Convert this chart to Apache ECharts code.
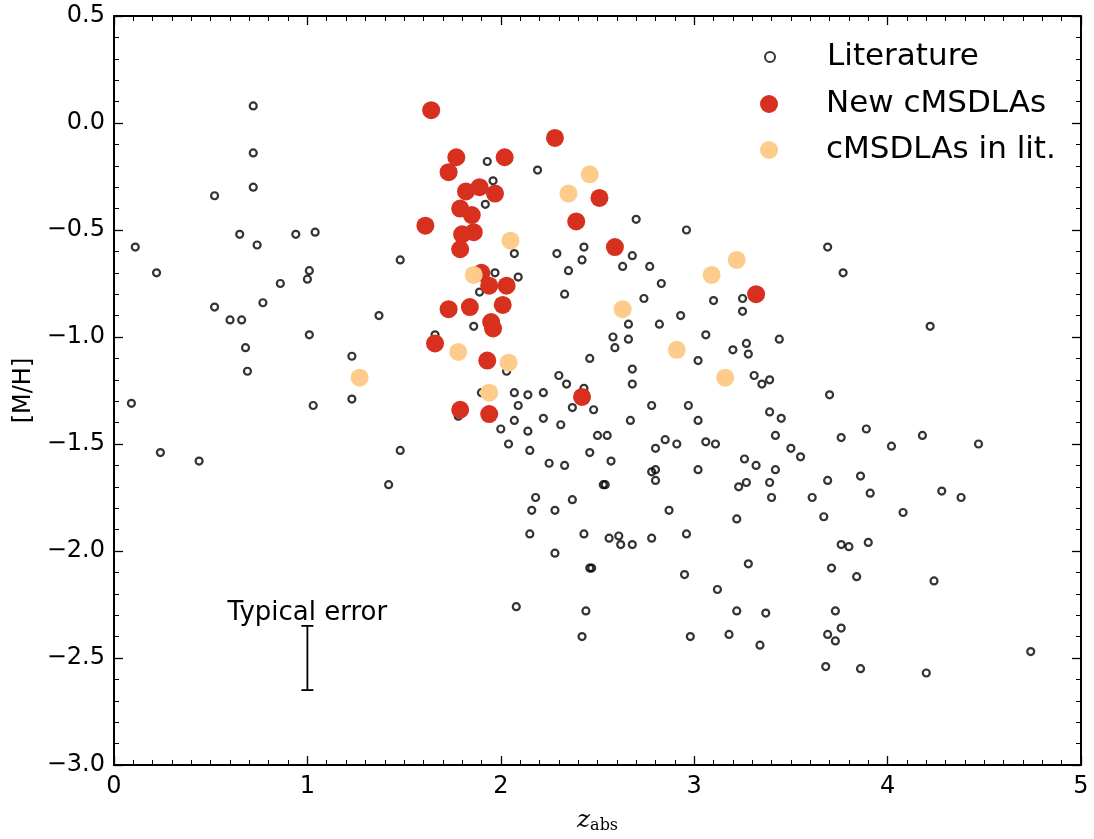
<!DOCTYPE html>
<html>
<head>
<meta charset="utf-8">
<script src="https://cdn.jsdelivr.net/npm/echarts@6/dist/echarts.min.js"></script>
<style>
  html, body { margin: 0; padding: 0; background: #fff; }
  #main { width: 1094px; height: 839px; }
</style>
</head>
<body>
<div id="main"></div>
<script>
// literature absorbers: [z_abs, [M/H]]
var literature = [
  [0.72,0.08],[0.72,-0.14],[0.72,-0.30],[0.52,-0.34],[0.65,-0.52],[0.74,-0.57],[0.94,-0.52],[1.04,-0.51],[0.11,-0.58],
  [0.22,-0.70],[0.52,-0.86],[0.60,-0.92],[0.66,-0.92],[0.77,-0.84],[0.86,-0.75],[1.01,-0.69],[1.00,-0.73],[1.01,-0.99],
  [0.68,-1.05],[0.69,-1.16],[1.23,-1.09],[1.23,-1.29],[0.09,-1.31],[1.03,-1.32],[0.24,-1.54],[0.44,-1.58],
  [1.48,-0.64],[1.37,-0.90],[1.66,-0.99],[1.48,-1.53],[1.42,-1.69],
  [1.93,-0.18],[2.19,-0.22],[1.96,-0.27],[1.92,-0.38],[2.07,-0.61],[2.29,-0.61],[2.43,-0.58],[2.42,-0.64],
  [2.70,-0.45],[2.96,-0.50],[2.68,-0.62],[3.69,-0.58],[2.63,-0.67],[2.77,-0.67],
  [1.97,-0.70],[2.09,-0.72],[1.89,-0.79],[2.35,-0.69],[2.33,-0.80],[1.86,-0.95],[2.03,-1.16],[2.46,-1.10],
  [2.30,-1.18],[2.34,-1.22],[2.43,-1.24],[1.90,-1.26],[2.07,-1.26],[2.14,-1.27],[2.22,-1.26],[2.09,-1.32],
  [2.37,-1.33],[2.48,-1.34],[1.78,-1.37],[2.07,-1.39],[2.22,-1.38],[2.31,-1.41],[2.00,-1.43],[2.14,-1.44],
  [2.50,-1.46],[2.04,-1.50],[2.15,-1.53],[2.46,-1.54],[2.25,-1.59],[2.33,-1.60],[2.53,-1.69],[2.18,-1.75],
  [2.37,-1.76],[2.16,-1.81],[2.28,-1.81],
  [3.77,-0.70],[2.83,-0.75],[2.74,-0.82],[3.10,-0.83],[3.25,-0.82],[3.25,-0.88],[2.93,-0.90],[2.66,-0.94],
  [2.82,-0.94],[2.58,-1.00],[2.66,-1.01],[2.59,-1.05],[3.06,-0.99],[3.27,-1.03],[3.44,-1.01],[3.20,-1.06],
  [3.28,-1.08],[3.02,-1.11],[2.68,-1.15],[2.68,-1.22],[3.31,-1.18],[3.39,-1.20],[3.35,-1.22],[3.70,-1.27],
  [2.78,-1.32],[2.97,-1.32],[2.67,-1.39],[3.02,-1.39],[3.39,-1.35],[3.45,-1.38],[2.55,-1.46],[3.42,-1.46],
  [3.76,-1.47],[2.85,-1.48],[2.91,-1.50],[3.06,-1.49],[3.11,-1.50],[2.80,-1.52],[3.50,-1.52],[3.55,-1.56],
  [2.57,-1.58],[3.26,-1.57],[3.32,-1.60],[3.02,-1.62],[3.42,-1.62],[2.78,-1.63],[2.80,-1.62],[2.80,-1.67],
  [2.54,-1.69],[3.23,-1.70],[3.27,-1.68],[3.39,-1.68],[3.69,-1.67],[3.40,-1.75],[3.61,-1.75],[2.87,-1.81],
  [4.22,-0.95],[3.89,-1.43],[4.02,-1.51],[4.18,-1.46],[4.47,-1.50],[3.86,-1.65],[3.91,-1.73],[4.28,-1.72],
  [4.38,-1.75],[4.08,-1.82],
  [2.15,-1.92],[2.43,-1.92],[2.28,-2.01],[2.46,-2.08],[2.47,-2.08],[2.08,-2.26],[2.44,-2.28],[2.42,-2.40],
  [3.22,-1.85],[3.67,-1.84],[2.56,-1.94],[2.61,-1.93],[2.62,-1.97],[2.68,-1.97],[2.78,-1.94],[2.96,-1.92],
  [3.76,-1.97],[3.80,-1.98],[2.95,-2.11],[3.28,-2.06],[3.71,-2.08],[3.12,-2.18],[3.22,-2.28],[3.37,-2.29],
  [3.73,-2.28],[3.76,-2.36],[3.69,-2.39],[3.73,-2.42],[2.98,-2.40],[3.18,-2.39],[3.34,-2.44],[3.68,-2.54],
  [3.90,-1.96],[3.84,-2.12],[4.24,-2.14],[4.74,-2.47],[3.86,-2.55],[4.20,-2.57]
];

// new cMSDLAs
var newCMSDLA = [
  [1.64,0.06],[2.28,-0.07],[1.77,-0.16],[2.02,-0.16],[1.73,-0.23],[1.82,-0.32],[1.89,-0.30],[1.97,-0.33],
  [2.51,-0.35],[1.79,-0.40],[1.85,-0.43],[1.61,-0.48],[2.39,-0.46],[1.80,-0.52],[1.86,-0.51],[1.79,-0.59],
  [2.59,-0.58],[1.90,-0.70],[1.94,-0.76],[2.03,-0.76],[1.73,-0.87],[1.84,-0.86],[2.01,-0.85],[3.32,-0.80],
  [1.95,-0.93],[1.96,-0.96],[1.66,-1.03],[1.93,-1.11],[2.42,-1.28],[1.79,-1.34],[1.94,-1.36]
];

// cMSDLAs already in the literature
var litCMSDLA = [
  [2.46,-0.24],[2.35,-0.33],[2.05,-0.55],[1.86,-0.71],[3.09,-0.71],[3.22,-0.64],[2.63,-0.87],
  [1.78,-1.07],[2.04,-1.12],[2.91,-1.06],[3.16,-1.19],[1.27,-1.19],[1.94,-1.26]
];

// typical error bar: [z, top, bottom]
var typicalError = [[1.0, -2.35, -2.65]];
var errorLabel = 'Typical error';

var FONT = 'DejaVu Sans';
var myChart = echarts.init(document.getElementById('main'));

function minus(v) { return String(v).replace('-', '\u2212'); }

var tickCommon = {
  axisLine: { show: true, onZero: false, lineStyle: { color: '#000', width: 2 } },
  axisTick: { show: true, inside: true, length: 9, lineStyle: { color: '#000', width: 1.3 } },
  minorTick: { show: true, length: 5, lineStyle: { color: '#000', width: 1 } },
  splitLine: { show: false }
};

option = {
  backgroundColor: '#fff',
  animation: false,
  grid: { left: 114, right: 13, top: 16, bottom: 74 },
  xAxis: [
    Object.assign({
      type: 'value', min: 0, max: 5, interval: 1, position: 'bottom',
      name: '{z|z}{s|abs}', nameLocation: 'middle', nameGap: 41,
      nameTextStyle: {
        rich: {
          z: { fontFamily: 'DejaVu Serif', fontStyle: 'italic', fontSize: 25, color: '#000' },
          s: { fontFamily: 'DejaVu Serif', fontSize: 16, color: '#000', padding: [12, 0, 0, 0] }
        }
      },
      axisLabel: { fontFamily: FONT, fontSize: 24, color: '#000', margin: 10 }
    }, tickCommon, { minorTick: Object.assign({ splitNumber: 10 }, tickCommon.minorTick) }),
    Object.assign({
      type: 'value', min: 0, max: 5, interval: 1, position: 'top',
      axisLabel: { show: false }
    }, tickCommon, { minorTick: Object.assign({ splitNumber: 10 }, tickCommon.minorTick) })
  ],
  yAxis: [
    Object.assign({
      type: 'value', min: -3, max: 0.5, interval: 0.5, position: 'left',
      name: '[M/H]', nameLocation: 'middle', nameGap: 78,
      nameTextStyle: { fontFamily: FONT, fontSize: 24, color: '#000' },
      axisLabel: {
        fontFamily: FONT, fontSize: 24, color: '#000', margin: 9,
        formatter: function (v) { return minus(v.toFixed(1)); }
      }
    }, tickCommon, { minorTick: Object.assign({ splitNumber: 5 }, tickCommon.minorTick) }),
    Object.assign({
      type: 'value', min: -3, max: 0.5, interval: 0.5, position: 'right',
      axisLabel: { show: false }
    }, tickCommon, { minorTick: Object.assign({ splitNumber: 5 }, tickCommon.minorTick) })
  ],
  legend: [
    {
      data: ['Literature'], orient: 'vertical', left: 759, top: 36,
      itemWidth: 10, itemHeight: 10, selectedMode: false, icon: 'circle',
      textStyle: { fontFamily: FONT, fontSize: 31, color: '#000', lineHeight: 32, padding: [0, 0, 0, 47] }
    },
    {
      data: ['New cMSDLAs', 'cMSDLAs in lit.'], orient: 'vertical', left: 755, top: 83,
      itemWidth: 18, itemHeight: 18, itemGap: 14, selectedMode: false, icon: 'circle',
      textStyle: { fontFamily: FONT, fontSize: 31, color: '#000', lineHeight: 32, padding: [0, 0, 0, 43] }
    }
  ],
  series: [
    {
      name: 'Literature', type: 'scatter', data: literature,
      symbol: 'circle', symbolSize: 7,
      itemStyle: { color: 'rgba(255,255,255,0)', borderColor: '#000', borderWidth: 2.2 },
      z: 2
    },
    {
      name: 'New cMSDLAs', type: 'scatter', data: newCMSDLA,
      symbol: 'circle', symbolSize: 18,
      itemStyle: { color: '#d7301f', opacity: 1 },
      z: 3
    },
    {
      name: 'cMSDLAs in lit.', type: 'scatter', data: litCMSDLA,
      symbol: 'circle', symbolSize: 18,
      itemStyle: { color: '#fdcc8a', opacity: 1 },
      z: 4
    },
    {
      type: 'custom', data: typicalError, z: 5, silent: true,
      renderItem: function (params, api) {
        var top = api.coord([api.value(0), api.value(1)]);
        var bot = api.coord([api.value(0), api.value(2)]);
        var lab = api.coord([api.value(0), api.value(1) + 0.06]);
        var cap = 6;
        var st = { stroke: '#000', lineWidth: 1.8 };
        return {
          type: 'group',
          children: [
            { type: 'line', shape: { x1: top[0], y1: top[1], x2: bot[0], y2: bot[1] }, style: st },
            { type: 'line', shape: { x1: top[0] - cap, y1: top[1], x2: top[0] + cap, y2: top[1] }, style: st },
            { type: 'line', shape: { x1: bot[0] - cap, y1: bot[1], x2: bot[0] + cap, y2: bot[1] }, style: st },
            { type: 'text', x: lab[0], y: lab[1],
              style: { text: errorLabel, fontFamily: FONT, fontSize: 26, fill: '#000',
                       align: 'center', verticalAlign: 'middle' } }
          ]
        };
      }
    }
  ]
};

myChart.setOption(option);
</script>
</body>
</html>
